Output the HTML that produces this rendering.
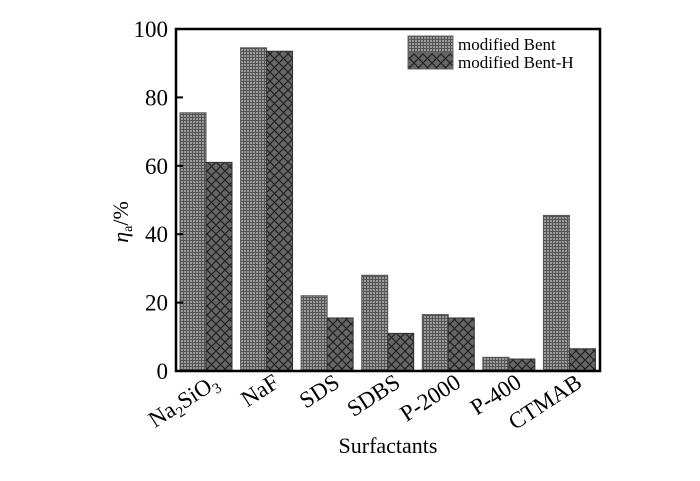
<!DOCTYPE html>
<html><head><meta charset="utf-8"><style>
body{margin:0;background:#fff;}
svg{display:block;font-family:"Liberation Serif",serif;}
</style></head><body>
<svg id="chart" width="700" height="481" viewBox="0 0 700 481">
<defs>
<pattern id="grid" width="3" height="3" patternUnits="userSpaceOnUse">
<rect width="3" height="3" fill="#9a9a9a"/><path d="M0 0.5H3M0.5 0V3" stroke="#555" stroke-width="1"/>
</pattern>
<pattern id="cross" width="9" height="9" patternUnits="userSpaceOnUse">
<rect width="9" height="9" fill="#666"/><path d="M0 0L9 9M9 0L0 9" stroke="#222" stroke-width="1.2"/>
</pattern>
</defs>
<g id="bars"></g>
<g id="axes"></g>
<g>
<rect x="408" y="36" width="45" height="16" fill="url(#grid)" stroke="#666"/>
<text x="458" y="50" font-size="17">modified Bent</text>
<rect x="408" y="53" width="45" height="16" fill="url(#cross)" stroke="#666"/>
<text x="458" y="68" font-size="17">modified Bent-H</text>
</g>
<text transform="translate(128,222) rotate(-90)" text-anchor="middle" font-size="22"><tspan font-style="italic">η</tspan><tspan font-size="14" dy="4">a</tspan><tspan dy="-4">/%</tspan></text>
<text x="388" y="453" text-anchor="middle" font-size="22">Surfactants</text>
</svg>
<script>
const categories = ["Na2SiO3","NaF","SDS","SDBS","P-2000","P-400","CTMAB"];
const bentValues = [75.5, 94.5, 22, 28, 16.5, 4, 45.5];
const bentHValues = [61, 93.5, 15.5, 11, 15.5, 3.5, 6.5];
const yTicks = [0, 20, 40, 60, 80, 100];

const NS = "http://www.w3.org/2000/svg";
const L = 176, R = 600, T = 29, B = 371;
const y = v => B - (v / 100) * (B - T);
const groupW = (R - L) / categories.length;
const x = i => L + 4 + groupW * i;
const bw = 26;

function mk(tag, attrs, parent) {
  const e = document.createElementNS(NS, tag);
  for (const k in attrs) e.setAttribute(k, attrs[k]);
  parent.appendChild(e);
  return e;
}
const bars = document.getElementById("bars");
const axes = document.getElementById("axes");
categories.forEach((c, i) => {
  const b1 = mk("rect", {x: x(i), y: y(bentValues[i]), width: bw, height: B - y(bentValues[i]), fill: "url(#grid)", stroke: "#555", "stroke-width": 1}, bars);
  
  
  const b2 = mk("rect", {x: x(i) + bw, y: y(bentHValues[i]), width: bw, height: B - y(bentHValues[i]), fill: "url(#cross)", stroke: "#333", "stroke-width": 1}, bars);
  
  
  const t = mk("text", {"text-anchor": "end", "font-size": 23, transform: `translate(${x(i) + bw + 14},386) rotate(-33)`}, axes);
  
  
  if (c === "Na2SiO3") {
    t.innerHTML = 'Na<tspan font-size="15" dy="5">2</tspan><tspan dy="-5">SiO</tspan><tspan font-size="15" dy="5">3</tspan>';
  } else t.textContent = c;
});
const frame = mk("rect", {x: L, y: T, width: R - L, height: B - T, fill: "none", stroke: "#000", "stroke-width": 2.5}, axes);


yTicks.forEach(v => {
  const tk = mk("line", {x1: L, x2: L + 7, y1: y(v), y2: y(v), stroke: "#000", "stroke-width": 2}, axes);
  
  
  const tl = mk("text", {x: L - 8, y: y(v) + 8, "text-anchor": "end", "font-size": 23}, axes);
  
  
  tl.textContent = v;
});
</script>
</body></html>
